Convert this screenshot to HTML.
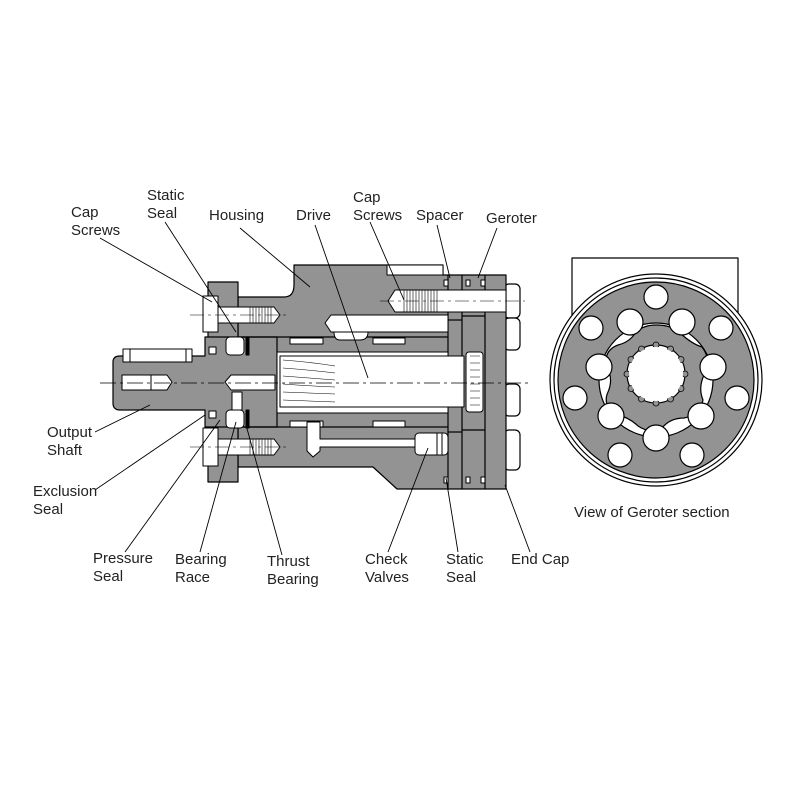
<!DOCTYPE html>
<html><head><style>
html,body{margin:0;padding:0;background:#fff;}
svg{display:block}
text{font-family:"Liberation Sans",sans-serif;font-size:15px;fill:#222;}
</style></head><body>
<svg width="800" height="800" viewBox="0 0 800 800" xmlns="http://www.w3.org/2000/svg">
<g stroke="#000" stroke-width="1.2" stroke-linejoin="round">
<g fill="#fff">
<rect x="504" y="284" width="16" height="34" rx="5"/>
<rect x="504" y="318" width="16" height="32" rx="5"/>
<rect x="504" y="384" width="16" height="32" rx="5"/>
<rect x="504" y="430" width="16" height="40" rx="5"/>
</g>
<path d="M238,297 L284,297 Q294,297 294,285 L294,265 L443,265 L443,275 L506,275 L506,489 L397,489 L373,467 L238,467 Z" fill="#939393"/>
<rect x="208" y="282" width="30" height="200" fill="#939393"/>
<path d="M113,362 Q113,356 120,356 L205,356 L205,337 L277,337 L277,427 L205,427 L205,410 L120,410 Q113,410 113,403 Z" fill="#939393"/>
<line x1="238" y1="337" x2="448" y2="337"/>
<line x1="238" y1="427" x2="448" y2="427"/>
<line x1="448" y1="275" x2="448" y2="489"/>
<line x1="462" y1="275" x2="462" y2="489"/>
<line x1="485" y1="275" x2="485" y2="489"/>
<line x1="448" y1="320" x2="462" y2="320"/>
<line x1="448" y1="432" x2="462" y2="432"/>
<line x1="462" y1="316" x2="485" y2="316"/>
<line x1="462" y1="430" x2="485" y2="430"/>
<g fill="#fff" stroke-width="1">
<rect x="444" y="280" width="4" height="6"/><rect x="466" y="280" width="4" height="6"/><rect x="481" y="280" width="4" height="6"/>
<rect x="444" y="477" width="4" height="6"/><rect x="466" y="477" width="4" height="6"/><rect x="481" y="477" width="4" height="6"/>
<rect x="123" y="349" width="69" height="13"/>
<line x1="130" y1="349" x2="130" y2="362"/><line x1="186" y1="349" x2="186" y2="362"/>
<path d="M122,375 L167,375 L172,382 L167,390 L122,390 Z"/>
<line x1="151" y1="375" x2="151" y2="390"/>
<path d="M231,375 L275,375 L275,390 L231,390 L225,382 Z"/>
<rect x="277" y="352" width="171" height="61"/>
<rect x="280" y="356" width="184" height="51"/>
<rect x="466" y="352" width="17" height="60" rx="3"/>
<path d="M331,315 L448,315 L448,332 L331,332 L325,323 Z"/>
<path d="M334,332 L368,332 Q368,340 360,340 L340,340 Q334,340 334,332 Z"/>
<rect x="290" y="338" width="33" height="6"/><rect x="373" y="338" width="32" height="6"/>
<rect x="290" y="421" width="33" height="6"/><rect x="373" y="421" width="32" height="6"/>
<path d="M307,422 L320,422 L320,439 L415,439 L415,447 L320,447 L320,451 L313,457 L307,451 Z"/>
<rect x="415" y="433" width="33" height="22" rx="4"/>
<line x1="437" y1="433" x2="437" y2="455"/><line x1="442" y1="433" x2="442" y2="455"/>
<path d="M395,290 L506,290 L506,312 L395,312 L388,301 Z"/>
<rect x="387" y="265" width="56" height="10"/>
<rect x="203" y="296" width="15" height="36"/>
<path d="M218,307 L274,307 L280,315 L274,323 L218,323 Z"/>
<rect x="203" y="428" width="15" height="38"/>
<path d="M218,439 L274,439 L280,447 L274,455 L218,455 Z"/>
<rect x="226" y="337" width="18" height="18" rx="4"/>
<rect x="226" y="410" width="18" height="18" rx="4"/>
<rect x="232" y="392" width="10" height="18"/>
<rect x="246" y="337" width="3" height="18" fill="#000"/>
<rect x="246" y="410" width="3" height="18" fill="#000"/>
<rect x="209" y="347" width="7" height="7"/><rect x="209" y="411" width="7" height="7"/>
</g>
<g stroke-width="0.6">
<path d="M250,307V323M253,307V323M256,307V323M259,307V323M262,307V323M265,307V323M268,307V323M271,307V323"/>
<path d="M250,439V455M253,439V455M256,439V455M259,439V455M262,439V455M265,439V455M268,439V455M271,439V455"/>
<path d="M404,290V312M407,290V312M410,290V312M413,290V312M416,290V312M419,290V312M422,290V312M425,290V312M428,290V312M431,290V312M434,290V312M437,290V312"/>
<path d="M283,360 Q310,362 335,366 M283,368 Q310,370 335,373 M283,376 Q310,378 335,380 M283,384 Q310,386 335,387 M283,392 Q310,393 335,394 M283,400 Q310,401 335,402" fill="none"/>
<path d="M470,356h10M470,363h10M470,370h10M470,377h10M470,384h10M470,391h10M470,398h10M470,405h10"/>
</g>
<line x1="100" y1="383" x2="528" y2="383" stroke-width="0.8" stroke-dasharray="16,4,3,4"/>
<line x1="190" y1="315" x2="290" y2="315" stroke-width="0.6" stroke-dasharray="14,4,3,4"/>
<line x1="190" y1="447" x2="290" y2="447" stroke-width="0.6" stroke-dasharray="14,4,3,4"/>
<line x1="380" y1="301" x2="525" y2="301" stroke-width="0.6" stroke-dasharray="14,4,3,4"/>
<g stroke-width="0.9" fill="none">
<path d="M100,238L212,302M165,222L236,332M240,228L310,287M315,225L368,378M370,222L404,300M437,225L450,278M497,228L478,278M95,432L150,405M95,490L205,415M125,552L220,420M200,552L236,422M282,555L246,425M388,552L428,448M458,552L446,478M530,552L505,485"/>
</g>
<rect x="572" y="258" width="166" height="80" fill="#fff"/>
<circle cx="656" cy="380" r="106" fill="#fff"/>
<circle cx="656" cy="380" r="102" fill="#fff"/>
<circle cx="656" cy="380" r="98" fill="#939393"/>
<circle cx="656" cy="380" r="57" fill="#fff"/>
<path d="M656,325 Q672,325 680,333 Q692,344 702,347 Q712,360 704,375 Q698,388 703,400 Q700,415 684,418 Q670,418 662,428 Q650,434 638,426 Q630,418 616,414 Q602,405 608,392 Q614,378 606,366 Q604,350 618,345 Q630,342 636,332 Q644,325 656,325 Z" fill="#939393"/>
<circle cx="656" cy="374" r="29" fill="#fff"/>
<g fill="#939393" stroke-width="0.8">
<circle cx="656" cy="345" r="3"/><circle cx="670.5" cy="349" r="3"/><circle cx="681" cy="359.5" r="3"/><circle cx="685" cy="374" r="3"/><circle cx="681" cy="388.5" r="3"/><circle cx="670.5" cy="399" r="3"/><circle cx="656" cy="403" r="3"/><circle cx="641.5" cy="399" r="3"/><circle cx="631" cy="388.5" r="3"/><circle cx="627" cy="374" r="3"/><circle cx="631" cy="359.5" r="3"/><circle cx="641.5" cy="349" r="3"/>
</g>
<circle cx="656" cy="374" r="27" fill="#fff" stroke="none"/>
<g fill="#fff">
<circle cx="656" cy="297" r="12"/><circle cx="721" cy="328" r="12"/><circle cx="737" cy="398" r="12"/><circle cx="692" cy="455" r="12"/><circle cx="620" cy="455" r="12"/><circle cx="575" cy="398" r="12"/><circle cx="591" cy="328" r="12"/>
<circle cx="656" cy="438" r="13"/><circle cx="701" cy="416" r="13"/><circle cx="713" cy="367" r="13"/><circle cx="682" cy="322" r="13"/><circle cx="630" cy="322" r="13"/><circle cx="599" cy="367" r="13"/><circle cx="611" cy="416" r="13"/>
</g>
</g>
<text x="71" y="217">Cap</text><text x="71" y="235">Screws</text>
<text x="147" y="200">Static</text><text x="147" y="218">Seal</text>
<text x="209" y="220">Housing</text>
<text x="296" y="220">Drive</text>
<text x="353" y="202">Cap</text><text x="353" y="220">Screws</text>
<text x="416" y="220">Spacer</text>
<text x="486" y="223">Geroter</text>
<text x="47" y="437">Output</text><text x="47" y="455">Shaft</text>
<text x="33" y="496">Exclusion</text><text x="33" y="514">Seal</text>
<text x="93" y="563">Pressure</text><text x="93" y="581">Seal</text>
<text x="175" y="564">Bearing</text><text x="175" y="582">Race</text>
<text x="267" y="566">Thrust</text><text x="267" y="584">Bearing</text>
<text x="365" y="564">Check</text><text x="365" y="582">Valves</text>
<text x="446" y="564">Static</text><text x="446" y="582">Seal</text>
<text x="511" y="564">End Cap</text>
<text x="574" y="517">View of Geroter section</text>
</svg>
</body></html>
